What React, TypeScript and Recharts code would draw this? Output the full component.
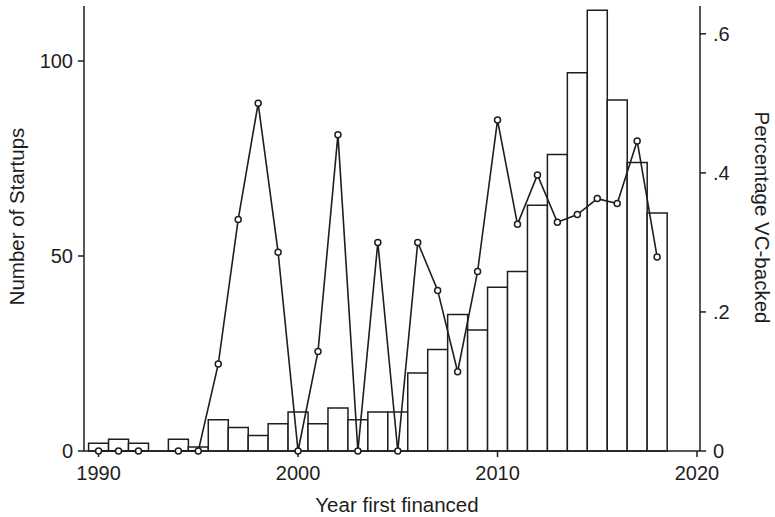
import { ComposedChart, Bar, Line, XAxis, YAxis } from 'recharts';

// year of first financing, 1990-2018
const years = [
    1990, 1991, 1992, 1993, 1994, 1995, 1996, 1997, 1998, 1999,
    2000, 2001, 2002, 2003, 2004, 2005, 2006, 2007, 2008, 2009,
    2010, 2011, 2012, 2013, 2014, 2015, 2016, 2017, 2018,
];

// number of startups (left axis)
const startups = [
    2, 3, 2, 0, 3, 1, 8, 6, 4, 7,
    10, 7, 11, 8, 10, 10, 20, 26, 35, 31,
    42, 46, 63, 76, 97, 113, 90, 74, 61,
];

// share VC-backed (right axis); 1993 has no startups
const pctVC = [
    0, 0, 0, null, 0, 0, 0.125, 0.333, 0.5, 0.286,
    0, 0.143, 0.455, 0, 0.3, 0, 0.3, 0.231, 0.114, 0.258,
    0.476, 0.326, 0.397, 0.329, 0.34, 0.363, 0.356, 0.446, 0.279,
];

const xTicks = [1990, 2000, 2010, 2020];
const leftTicks = [0, 50, 100];
const rightTicks = [0, 0.2, 0.4, 0.6];

const data = years.map((year, i) => ({ year, startups: startups[i], pct: pctVC[i] }));

const ink = '#1e1e1e';
const font = '"Liberation Sans", Arial, sans-serif';
const tickStyle = { fill: ink, fontSize: 20, fontFamily: font };
const xDomain = [1989.27, 2020.15];

export default function App() {
    return (
        <div style={{ position: 'absolute', left: 0, top: 0, background: '#fff' }}>
            <ComposedChart
                width={775}
                height={517}
                data={data}
                margin={{ top: 6, right: 0, bottom: 0, left: 0 }}
                barCategoryGap={0}
                barGap={0}
            >
                <XAxis
                    dataKey="year"
                    type="number"
                    scale="linear"
                    domain={xDomain}
                    allowDataOverflow
                    ticks={xTicks}
                    height={66}
                    stroke={ink}
                    strokeWidth={1.5}
                    tick={tickStyle}
                    tickSize={6}
                    tickMargin={9}
                    label={{ value: 'Year first financed', position: 'center', dx: 5, dy: 21, fill: ink, fontSize: 20.5, fontFamily: font }}
                />
                <XAxis
                    xAxisId="top"
                    orientation="top"
                    dataKey="year"
                    type="number"
                    domain={xDomain}
                    allowDataOverflow
                    height={0}
                    tick={false}
                    tickLine={false}
                    stroke={ink}
                    strokeWidth={1.5}
                />
                <YAxis
                    yAxisId="n"
                    domain={[0, 114.1]}
                    ticks={leftTicks}
                    width={84}
                    stroke={ink}
                    strokeWidth={1.5}
                    tick={tickStyle}
                    tickSize={6}
                    tickMargin={5}
                    label={{ value: 'Number of Startups', angle: -90, position: 'center', dx: -25, dy: -12, fill: ink, fontSize: 20.5, fontFamily: font }}
                />
                <YAxis
                    yAxisId="pct"
                    orientation="right"
                    domain={[0, 0.64]}
                    ticks={rightTicks}
                    width={75}
                    stroke={ink}
                    strokeWidth={1.5}
                    tick={tickStyle}
                    tickSize={6}
                    tickMargin={7}
                    tickFormatter={(v: number) => (v === 0 ? '0' : String(v).replace(/^0/, ''))}
                    label={{ value: 'Percentage VC-backed', angle: 90, position: 'center', dx: 24.5, dy: -11, fill: ink, fontSize: 20.5, fontFamily: font }}
                />
                <Bar
                    yAxisId="n"
                    dataKey="startups"
                    fill="#fff"
                    stroke={ink}
                    strokeWidth={1.5}
                    isAnimationActive={false}
                />
                <Line
                    yAxisId="pct"
                    dataKey="pct"
                    type="linear"
                    stroke={ink}
                    strokeWidth={1.6}
                    connectNulls
                    dot={{ r: 3, fill: '#fff', stroke: ink, strokeWidth: 1.5 }}
                    activeDot={false}
                    isAnimationActive={false}
                />
            </ComposedChart>
        </div>
    );
}
